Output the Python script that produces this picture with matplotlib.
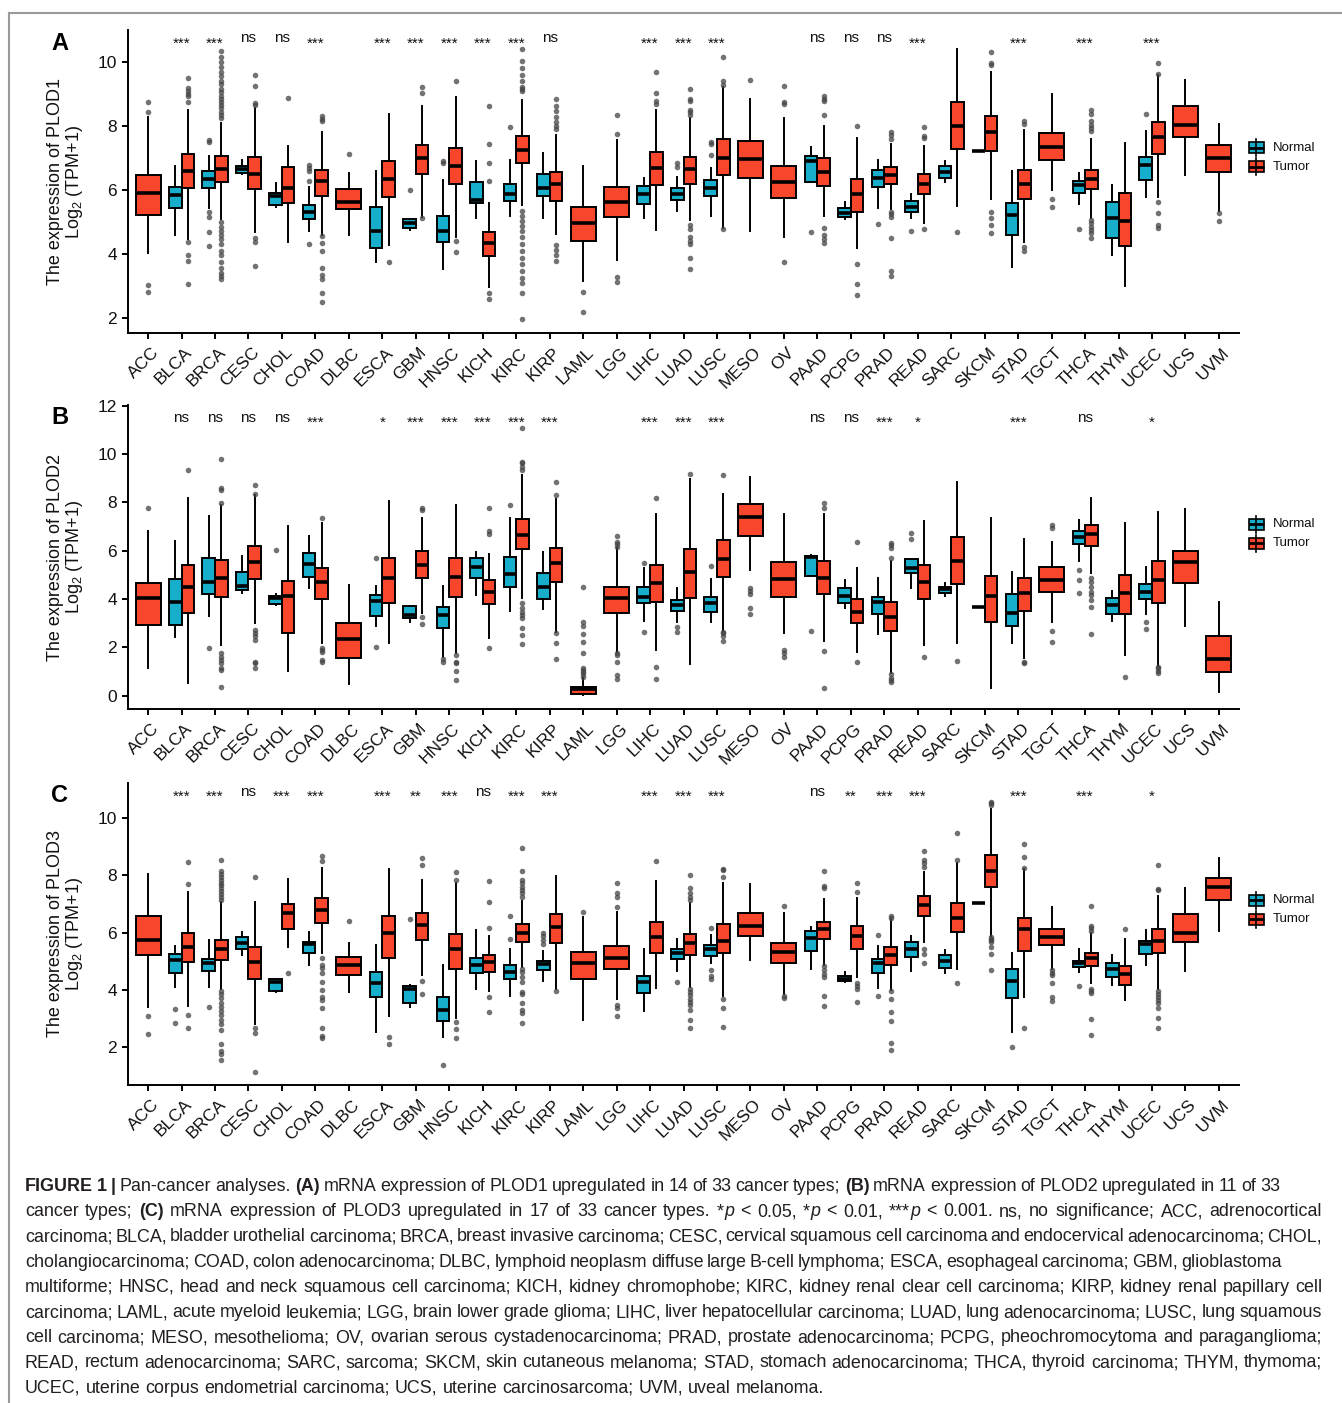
import matplotlib
matplotlib.use("Agg")
import matplotlib.pyplot as plt
from matplotlib.patches import Rectangle
from matplotlib.lines import Line2D
from matplotlib.transforms import ScaledTranslation

plt.rcParams['font.family'] = ['Liberation Sans', 'DejaVu Sans']
plt.rcParams['mathtext.fontset'] = 'custom'
plt.rcParams['mathtext.rm'] = 'Liberation Sans'
plt.rcParams['mathtext.it'] = 'Liberation Sans:italic'
plt.rcParams['mathtext.bf'] = 'Liberation Sans:bold'

# ---------------------------------------------------------------- data
cancers = ["ACC", "BLCA", "BRCA", "CESC", "CHOL", "COAD", "DLBC", "ESCA", "GBM", "HNSC",
           "KICH", "KIRC", "KIRP", "LAML", "LGG", "LIHC", "LUAD", "LUSC", "MESO", "OV",
           "PAAD", "PCPG", "PRAD", "READ", "SARC", "SKCM", "STAD", "TGCT", "THCA", "THYM",
           "UCEC", "UCS", "UVM"]
groups = ["Normal", "Tumor"]

# box statistics: (lower whisker, Q1, median, Q3, upper whisker); None = no samples
A_normal = [None, (4.59, 5.44, 5.84, 6.08, 6.73), (5.44, 6.07, 6.34, 6.59, 7.07), (6.50, 6.52, 6.66, 6.75, 6.94),
            (5.47, 5.53, 5.82, 5.91, 6.21), (4.71, 5.09, 5.32, 5.53, 6.08), None, (3.75, 4.17, 4.71, 5.47, 6.60),
            (4.75, 4.82, 4.95, 5.08, 5.10), (3.51, 4.36, 4.72, 5.18, 6.31), (5.11, 5.60, 5.68, 6.26, 6.89),
            (5.19, 5.66, 5.87, 6.19, 6.94), (5.11, 5.81, 6.05, 6.50, 7.15), None, None,
            (5.13, 5.56, 5.87, 6.12, 6.38), (5.35, 5.68, 5.86, 6.05, 6.41), (5.19, 5.81, 6.05, 6.31, 6.68),
            None, None, (6.26, 6.26, 6.89, 7.06, 7.34), (5.09, 5.14, 5.27, 5.42, 5.63),
            (5.44, 6.10, 6.38, 6.62, 6.94), (5.13, 5.32, 5.47, 5.65, 5.87), (6.24, 6.38, 6.57, 6.75, 6.91),
            (7.20, 7.20, 7.20, 7.20, 7.20), (3.57, 4.60, 5.21, 5.60, 6.60), None,
            (5.56, 5.89, 6.15, 6.29, 6.52), (3.96, 4.50, 5.11, 5.63, 6.15), (5.76, 6.31, 6.78, 7.04, 7.83),
            None, None]
A_tumor = [(4.03, 5.21, 5.89, 6.47, 8.27), (4.45, 6.05, 6.60, 7.12, 8.51), (5.10, 6.26, 6.66, 7.06, 8.10),
           (4.69, 6.03, 6.50, 7.04, 8.56), (4.38, 5.60, 6.05, 6.70, 7.36), (4.59, 5.82, 6.28, 6.62, 7.80),
           (4.60, 5.39, 5.63, 6.02, 6.54), (4.27, 5.79, 6.34, 6.89, 8.37), (5.16, 6.49, 6.99, 7.39, 8.63),
           (4.53, 6.18, 6.73, 7.30, 8.89), (2.97, 3.93, 4.35, 4.67, 5.60), (5.53, 6.83, 7.25, 7.67, 8.82),
           (4.61, 5.65, 6.19, 6.55, 7.72), (3.16, 4.40, 4.97, 5.45, 6.75), (3.80, 5.14, 5.63, 6.08, 7.57),
           (4.74, 6.15, 6.68, 7.17, 8.51), (5.06, 6.19, 6.65, 7.02, 8.24), (4.80, 6.47, 6.99, 7.59, 9.21),
           (4.72, 6.36, 6.96, 7.53, 8.84), (4.53, 5.74, 6.23, 6.75, 8.24), (5.18, 6.12, 6.57, 6.99, 8.00),
           (4.19, 5.32, 5.86, 6.34, 7.62), (5.39, 6.18, 6.47, 6.71, 7.43), (4.97, 5.86, 6.19, 6.50, 7.38),
           (5.50, 7.28, 8.00, 8.75, 10.39), (5.71, 7.20, 7.81, 8.30, 9.69), (4.36, 5.71, 6.18, 6.62, 7.86),
           (5.98, 6.94, 7.33, 7.77, 9.00), (5.13, 6.02, 6.33, 6.62, 7.59), (2.99, 4.25, 5.03, 5.89, 7.46),
           (5.76, 7.12, 7.64, 8.11, 9.60), (6.47, 7.65, 8.04, 8.61, 9.45), (5.35, 6.57, 7.01, 7.39, 8.07)]
A_normal_out = {"BRCA": [7.57, 7.49, 5.32, 5.16, 4.67, 4.25], "COAD": [6.78, 6.68, 6.60, 6.29, 4.32],
                "GBM": [5.98], "HNSC": [6.91, 6.83], "KIRC": [7.95], "LUAD": [6.85, 6.70],
                "LUSC": [7.51, 7.43, 7.10], "PAAD": [4.67], "PRAD": [4.93], "READ": [4.72],
                "THCA": [4.77], "UCEC": [8.37]}
A_tumor_out = {"ACC": [8.75, 8.43, 3.02, 2.81],
               "BLCA": [9.50, 9.18, 9.10, 9.00, 8.95, 8.75, 4.38, 3.96, 3.77, 3.05],
               "BRCA": [10.35, 10.15, 10.0, 9.85, 9.7, 9.55, 9.4, 9.3, 9.15, 9.05, 8.95, 8.85, 8.75, 8.65,
                        8.55, 8.45, 8.35, 8.25, 5.0, 4.85, 4.7, 4.6, 4.45, 4.3, 4.1, 3.95, 3.75, 3.55,
                        3.4, 3.3, 3.2],
               "CESC": [9.6, 9.24, 8.71, 8.66, 4.48, 4.36, 3.63], "CHOL": [8.87],
               "COAD": [8.30, 8.22, 8.14, 4.55, 4.33, 4.07, 3.54, 3.33, 3.22, 2.76, 2.48],
               "DLBC": [7.12], "ESCA": [3.75], "GBM": [9.23, 9.03, 5.12], "HNSC": [9.41, 4.40, 4.06],
               "KICH": [8.61, 7.43, 6.85, 6.29, 2.76, 2.57],
               "KIRC": [10.39, 10.02, 9.81, 9.6, 9.41, 9.23, 9.16, 9.08, 5.34, 5.19, 5.03, 4.88, 4.72,
                        4.51, 4.30, 4.09, 3.88, 3.67, 3.46, 3.25, 3.09, 2.78, 1.95],
               "KIRP": [8.85, 8.61, 8.47, 8.29, 8.13, 8.01, 7.91, 4.27, 4.11, 3.96, 3.77],
               "LAML": [2.79, 2.18], "LGG": [8.33, 7.75, 3.26, 3.12], "LIHC": [9.69, 9.03, 8.79, 8.68],
               "LUAD": [9.15, 8.85, 8.79, 8.51, 8.43, 8.35, 4.90, 4.77, 4.53, 4.40, 4.30, 3.88, 3.51],
               "LUSC": [10.15, 9.41, 9.28, 4.78], "MESO": [9.45], "OV": [9.24, 8.76, 8.69, 3.75],
               "PAAD": [8.93, 8.85, 8.79, 8.35, 4.79, 4.58, 4.46, 4.33], "PCPG": [8.00, 3.67, 3.05, 2.71],
               "PRAD": [7.81, 7.70, 7.60, 5.32, 5.25, 5.15, 4.50, 3.46, 3.30],
               "READ": [7.95, 7.67, 7.62, 4.78], "SARC": [4.67],
               "SKCM": [10.31, 9.97, 9.92, 5.30, 5.13, 4.90, 4.66], "STAD": [8.16, 8.06, 4.22, 4.08],
               "TGCT": [5.71, 5.45],
               "THCA": [8.51, 8.37, 8.14, 8.03, 7.93, 7.83, 5.06, 4.96, 4.85, 4.75, 4.64, 4.48],
               "UCEC": [9.97, 9.62, 5.63, 5.27, 4.90, 4.79], "UVM": [5.27, 5.01]}
A_sig = ["", "***", "***", "ns", "ns", "***", "", "***", "***", "***", "***", "***", "ns", "", "",
         "***", "***", "***", "", "", "ns", "ns", "ns", "***", "", "", "***", "", "***", "", "***", "", ""]

B_normal = [None, (2.44, 2.92, 3.86, 4.83, 6.41), (3.31, 4.19, 4.69, 5.68, 7.45), (4.26, 4.37, 4.55, 5.13, 5.78),
            (3.75, 3.79, 4.03, 4.12, 4.19), (4.44, 4.92, 5.43, 5.92, 6.62), None, (2.90, 3.30, 3.92, 4.17, 4.54),
            (3.06, 3.23, 3.34, 3.71, 3.71), (1.61, 2.81, 3.34, 3.66, 4.55), (4.17, 4.88, 5.34, 5.68, 5.96),
            (3.50, 4.48, 5.02, 5.72, 7.37), (3.57, 4.00, 4.51, 5.06, 5.93), None, None,
            (3.10, 3.82, 4.10, 4.48, 5.27), (3.06, 3.52, 3.75, 3.96, 4.47), (3.06, 3.48, 3.82, 4.07, 4.83),
            None, None, (4.95, 4.95, 5.72, 5.78, 5.82), (3.61, 3.82, 4.12, 4.44, 4.79),
            (2.54, 3.37, 3.86, 4.10, 4.88), (4.47, 5.09, 5.27, 5.64, 5.66), (4.14, 4.23, 4.40, 4.51, 4.65),
            (3.66, 3.66, 3.66, 3.66, 3.66), (2.17, 2.88, 3.43, 4.21, 5.13), None,
            (5.57, 6.28, 6.58, 6.83, 7.27), (3.09, 3.38, 3.75, 4.06, 4.33), (3.38, 4.00, 4.30, 4.62, 5.34),
            None, None]
B_tumor = [(1.13, 2.92, 4.06, 4.65, 6.81), (0.51, 3.41, 4.51, 5.41, 8.17), (2.10, 4.10, 4.88, 5.61, 7.90),
           (2.99, 4.81, 5.54, 6.21, 8.30), (1.03, 2.61, 4.12, 4.74, 7.02), (2.17, 4.00, 4.72, 5.27, 7.13),
           (0.48, 1.54, 2.34, 3.02, 4.58), (2.17, 3.85, 4.86, 5.71, 8.06), (3.41, 4.88, 5.41, 5.99, 7.34),
           (1.75, 4.07, 4.92, 5.68, 7.89), (2.37, 3.79, 4.28, 4.79, 5.86), (4.03, 6.06, 6.65, 7.30, 9.13),
           (2.62, 4.72, 5.50, 6.10, 8.14), (0.03, 0.06, 0.26, 0.34, 0.75), (1.82, 3.41, 4.03, 4.48, 6.10),
           (1.89, 3.89, 4.65, 5.41, 7.54), (1.30, 4.03, 5.13, 6.07, 8.95), (2.68, 4.92, 5.66, 6.44, 8.34),
           (5.20, 6.62, 7.41, 7.92, 9.03), (2.58, 4.10, 4.81, 5.54, 7.52), (2.28, 4.21, 4.88, 5.59, 7.52),
           (1.79, 3.02, 3.45, 4.00, 5.30), (0.92, 2.68, 3.27, 3.86, 5.57), (2.10, 4.00, 4.69, 5.41, 7.23),
           (2.17, 4.62, 5.59, 6.55, 8.86), (0.30, 3.03, 4.12, 4.97, 7.37), (1.54, 3.52, 4.23, 4.88, 6.47),
           (3.06, 4.28, 4.79, 5.31, 6.37), (5.06, 6.19, 6.68, 7.06, 8.17), (1.68, 3.37, 4.26, 4.99, 7.13),
           (1.24, 3.82, 4.79, 5.57, 7.61), (2.88, 4.67, 5.54, 6.00, 7.71), (0.17, 0.99, 1.52, 2.47, 3.89)]
B_normal_out = {"BRCA": [1.96], "CHOL": [6.03], "ESCA": [5.71, 2.03], "HNSC": [1.50, 1.41],
                "KIRC": [7.89], "LIHC": [5.50, 2.62], "LUAD": [2.83, 2.62], "LUSC": [5.38],
                "PAAD": [2.68], "READ": [6.72, 6.48], "THCA": [5.20, 4.79, 4.23], "UCEC": [3.06, 2.74]}
B_tumor_out = {"ACC": [7.75], "BLCA": [9.34],
               "BRCA": [9.78, 8.60, 8.50, 7.96, 1.75, 1.61, 1.48, 1.34, 1.16, 1.06, 0.37],
               "CESC": [8.72, 8.34, 2.72, 2.58, 2.48, 2.30, 1.41, 1.34, 1.16],
               "COAD": [7.34, 1.97, 1.90, 1.80, 1.48, 1.41], "GBM": [7.75, 7.68, 3.27, 2.95],
               "HNSC": [1.68, 1.41, 1.34, 1.02, 0.65], "KICH": [7.75, 6.81, 6.68, 1.99],
               "KIRC": [11.06, 9.68, 9.61, 9.48, 9.34, 3.82, 3.61, 3.48, 3.34, 3.20, 2.79, 2.51, 2.12],
               "KIRP": [8.86, 8.30, 2.58, 2.19, 1.52],
               "LAML": [4.51, 3.06, 2.88, 2.54, 2.21, 1.75, 1.13, 1.06, 0.97, 0.88, 0.79],
               "LGG": [6.61, 6.37, 6.26, 6.17, 1.78, 1.68, 1.41, 0.86, 0.69], "LIHC": [8.19, 1.20, 0.68],
               "LUAD": [9.17], "LUSC": [9.13, 2.65, 2.58, 2.48, 2.28], "MESO": [4.44, 4.33, 4.21, 3.61, 3.38],
               "OV": [1.89, 1.75, 1.61], "PAAD": [7.99, 7.75, 1.85, 0.30], "PCPG": [6.37, 1.41],
               "PRAD": [6.30, 6.23, 6.10, 5.71, 0.88, 0.74, 0.65, 0.58], "READ": [1.61], "SARC": [1.45],
               "STAD": [1.41, 1.34], "TGCT": [7.06, 6.95, 2.68, 2.21],
               "THCA": [4.86, 4.72, 4.51, 4.30, 4.17, 3.96, 3.68, 2.54], "THYM": [0.79],
               "UCEC": [1.20, 1.13, 1.02, 0.92]}
B_sig = ["", "ns", "ns", "ns", "ns", "***", "", "*", "***", "***", "***", "***", "***", "", "",
         "***", "***", "***", "", "", "ns", "ns", "***", "*", "", "", "***", "", "ns", "", "*", "", ""]

C_normal = [None, (4.10, 4.60, 5.04, 5.25, 5.53), (4.08, 4.66, 4.95, 5.09, 5.74), (5.21, 5.42, 5.64, 5.85, 6.03),
            (3.93, 3.96, 4.28, 4.37, 4.39), (4.88, 5.29, 5.60, 5.68, 6.03), None, (2.52, 3.75, 4.24, 4.63, 5.58),
            (3.40, 3.54, 4.04, 4.14, 4.16), (2.35, 2.91, 3.28, 3.75, 4.88), (4.02, 4.57, 4.86, 5.12, 6.09),
            (3.79, 4.36, 4.63, 4.88, 5.44), (4.31, 4.68, 4.89, 5.01, 5.35), None, None,
            (3.26, 3.89, 4.28, 4.49, 5.42), (4.66, 5.09, 5.29, 5.41, 5.77), (4.92, 5.19, 5.41, 5.56, 5.91),
            None, None, (4.71, 5.35, 5.82, 6.05, 6.20), (4.28, 4.30, 4.39, 4.49, 4.63),
            (4.07, 4.59, 4.95, 5.07, 5.53), (4.66, 5.15, 5.41, 5.68, 5.88), (4.59, 4.77, 5.00, 5.21, 5.39),
            (7.02, 7.02, 7.02, 7.02, 7.02), (2.50, 3.71, 4.31, 4.71, 5.29), None,
            (4.63, 4.80, 4.94, 5.01, 5.41), (4.18, 4.43, 4.71, 4.95, 5.23), (4.86, 5.25, 5.60, 5.70, 6.09),
            None, None]
C_tumor = [(3.38, 5.21, 5.74, 6.58, 8.04), (3.42, 4.98, 5.50, 5.99, 7.41), (4.04, 5.04, 5.44, 5.74, 7.08),
           (2.79, 4.39, 4.98, 5.50, 7.06), (5.50, 6.12, 6.69, 6.99, 7.86), (5.27, 6.34, 6.79, 7.20, 8.27),
           (3.93, 4.51, 4.86, 5.15, 5.64), (3.08, 5.12, 5.97, 6.59, 8.21), (4.51, 5.74, 6.26, 6.67, 7.84),
           (2.99, 4.74, 5.42, 5.95, 7.72), (3.95, 4.63, 4.98, 5.21, 5.88), (4.80, 5.68, 5.97, 6.29, 7.10),
           (4.01, 5.62, 6.20, 6.65, 7.99), (2.93, 4.39, 4.92, 5.33, 6.53), (3.69, 4.72, 5.12, 5.53, 6.73),
           (4.07, 5.29, 5.85, 6.36, 7.80), (4.10, 5.21, 5.62, 5.95, 7.02), (3.77, 5.29, 5.71, 6.30, 7.72),
           (5.04, 5.88, 6.24, 6.69, 7.69), (3.84, 4.94, 5.33, 5.64, 6.67), (4.88, 5.76, 6.12, 6.38, 7.16),
           (4.45, 5.44, 5.88, 6.23, 7.20), (3.98, 4.88, 5.21, 5.50, 6.44), (5.68, 6.58, 6.96, 7.28, 8.11),
           (4.74, 6.03, 6.50, 7.04, 8.42), (5.89, 7.61, 8.15, 8.71, 10.32), (3.73, 5.36, 6.11, 6.52, 8.22),
           (4.74, 5.56, 5.85, 6.11, 6.90), (4.22, 4.84, 5.12, 5.30, 5.97), (3.63, 4.16, 4.54, 4.84, 5.79),
           (4.01, 5.27, 5.71, 6.12, 7.28), (4.65, 5.68, 6.00, 6.65, 7.57), (6.05, 7.14, 7.58, 7.92, 8.60)]
C_normal_out = {"BLCA": [3.32, 2.84], "BRCA": [3.40], "GBM": [6.47], "HNSC": [1.36], "KIRC": [6.59, 5.76],
                "KIRP": [6.00, 5.89, 5.74, 5.60], "LUAD": [4.28], "LUSC": [6.17, 4.68, 4.47, 4.36],
                "PRAD": [5.93, 3.79], "STAD": [2.00], "THCA": [4.12]}
C_tumor_out = {"ACC": [3.08, 2.43], "BLCA": [8.48, 7.70, 3.11, 2.66],
               "BRCA": [8.54, 8.15, 8.05, 7.95, 7.85, 7.75, 7.65, 7.55, 7.45, 7.35, 7.25, 7.15, 3.95, 3.85,
                        3.70, 3.55, 3.40, 3.25, 3.10, 2.95, 2.80, 2.60, 2.10, 1.85, 1.75, 1.55],
               "CESC": [7.96, 2.64, 2.47, 1.12], "CHOL": [4.59],
               "COAD": [8.68, 8.52, 5.10, 4.86, 4.75, 4.57, 4.28, 3.99, 3.76, 3.64, 3.34, 2.64, 2.38, 2.31],
               "DLBC": [6.41], "ESCA": [2.35, 2.09], "GBM": [8.62, 8.36, 4.30, 3.84],
               "HNSC": [8.11, 7.84, 2.87, 2.61, 2.31], "KICH": [7.80, 7.06, 6.17, 3.75, 3.22],
               "KIRC": [8.95, 8.15, 7.84, 7.72, 7.60, 7.48, 7.37, 7.25, 4.74, 4.63, 4.45, 4.28, 3.93,
                        3.84, 3.52, 3.28, 3.19, 2.82],
               "KIRP": [3.96], "LAML": [6.71], "LGG": [7.72, 7.37, 7.26, 6.90, 3.48, 3.36, 3.08],
               "LIHC": [8.50],
               "LUAD": [8.01, 7.57, 7.37, 7.25, 7.13, 4.04, 3.92, 3.81, 3.69, 3.57, 3.46, 3.29, 2.94, 2.64],
               "LUSC": [8.21, 8.19, 7.93, 3.66, 3.37, 2.68], "OV": [6.93, 3.78, 3.72],
               "PAAD": [8.17, 7.62, 7.57, 4.82, 4.68, 4.54, 4.43, 3.77, 3.43],
               "PCPG": [7.72, 7.41, 4.22, 4.12, 4.04, 3.57],
               "PRAD": [6.59, 6.50, 3.94, 3.66, 3.20, 2.90, 2.14, 1.88],
               "READ": [8.86, 8.54, 8.45, 8.31, 5.42, 5.25, 4.94], "SARC": [9.50, 8.54, 4.24],
               "SKCM": [10.58, 10.53, 10.47, 5.85, 5.79, 5.74, 5.68, 5.48, 5.25, 4.68],
               "STAD": [9.10, 8.63, 8.25, 2.66], "TGCT": [4.68, 4.59, 4.51, 4.22, 3.76, 3.61],
               "THCA": [6.93, 6.23, 6.15, 6.07, 4.02, 3.96, 3.89, 2.96, 2.41], "THYM": [6.11],
               "UCEC": [8.36, 7.53, 7.48, 3.96, 3.85, 3.75, 3.64, 3.52, 3.34, 2.99, 2.64]}
C_sig = ["", "***", "***", "ns", "***", "***", "", "***", "**", "***", "ns", "***", "***", "", "",
         "***", "***", "***", "", "", "ns", "**", "***", "***", "", "", "***", "", "***", "", "*", "", ""]

genes = ["PLOD1", "PLOD2", "PLOD3"]
panel_letters = ["A", "B", "C"]

caption_lines = [
    "§FIGURE 1 |§ Pan-cancer analyses. §(A)§ mRNA expression of PLOD1 upregulated in 14 of 33 cancer types; §(B)§ mRNA expression of PLOD2 upregulated in 11 of 33",
    "cancer types; §(C)§ mRNA expression of PLOD3 upregulated in 17 of 33 cancer types. *~p~ < 0.05, *~p~ < 0.01, ***~p~ < 0.001. ns, no significance; ACC, adrenocortical",
    "carcinoma; BLCA, bladder urothelial carcinoma; BRCA, breast invasive carcinoma; CESC, cervical squamous cell carcinoma and endocervical adenocarcinoma; CHOL,",
    "cholangiocarcinoma; COAD, colon adenocarcinoma; DLBC, lymphoid neoplasm diffuse large B-cell lymphoma; ESCA, esophageal carcinoma; GBM, glioblastoma",
    "multiforme; HNSC, head and neck squamous cell carcinoma; KICH, kidney chromophobe; KIRC, kidney renal clear cell carcinoma; KIRP, kidney renal papillary cell",
    "carcinoma; LAML, acute myeloid leukemia; LGG, brain lower grade glioma; LIHC, liver hepatocellular carcinoma; LUAD, lung adenocarcinoma; LUSC, lung squamous",
    "cell carcinoma; MESO, mesothelioma; OV, ovarian serous cystadenocarcinoma; PRAD, prostate adenocarcinoma; PCPG, pheochromocytoma and paraganglioma;",
    "READ, rectum adenocarcinoma; SARC, sarcoma; SKCM, skin cutaneous melanoma; STAD, stomach adenocarcinoma; THCA, thyroid carcinoma; THYM, thymoma;",
    "UCEC, uterine corpus endometrial carcinoma; UCS, uterine carcinosarcoma; UVM, uveal melanoma.",
]

# ---------------------------------------------------------------- style / layout
W, H = 1342, 1403
COL = {"Normal": "#16AECB", "Tumor": "#F8462D"}
fig = plt.figure(figsize=(W / 100, H / 100), dpi=100)


def fx(x):
    return x / W


def fy(y):
    return 1 - y / H


panels = [
    dict(normal=A_normal, tumor=A_tumor, nout=A_normal_out, tout=A_tumor_out, sig=A_sig,
         px=(128, 30, 1239, 333), ylim=(1.52, 11.0), yticks=[2, 4, 6, 8, 10],
         ns_y=10.63, star_y=10.45, leg_y=(147.7, 166.7)),
    dict(normal=B_normal, tumor=B_tumor, nout=B_normal_out, tout=B_tumor_out, sig=B_sig,
         px=(128, 405, 1239, 709), ylim=(-0.55, 12.03), yticks=[0, 2, 4, 6, 8, 10, 12],
         ns_y=11.34, star_y=11.14, leg_y=(524.0, 543.3)),
    dict(normal=C_normal, tumor=C_tumor, nout=C_normal_out, tout=C_tumor_out, sig=C_sig,
         px=(128, 782.7, 1239, 1085), ylim=(0.66, 11.25), yticks=[2, 4, 6, 8, 10],
         ns_y=10.79, star_y=10.63, leg_y=(900.0, 919.0)),
]


def mkstat(s, fl):
    lo, q1, med, q3, hi = s
    return dict(whislo=lo, q1=q1, med=med, q3=q3, whishi=hi, fliers=fl)


for k, P in enumerate(panels):
    l, t, r, b = P["px"]
    ax = fig.add_axes([fx(l), fy(b), (r - l) / W, (b - t) / H])
    for g in groups:
        stats, pos, wid = [], [], []
        for i, c in enumerate(cancers):
            s = P["normal"][i] if g == "Normal" else P["tumor"][i]
            if s is None:
                continue
            fl = (P["nout"] if g == "Normal" else P["tout"]).get(c, [])
            paired = P["normal"][i] is not None
            if paired:
                pos.append(i + 1 + (-0.1875 if g == "Normal" else 0.1875))
                wid.append(0.375)
            else:
                pos.append(i + 1)
                wid.append(0.75)
            stats.append(mkstat(s, fl))
        ax.bxp(stats, positions=pos, widths=wid, patch_artist=True, showcaps=False,
               boxprops=dict(facecolor=COL[g], edgecolor="black", linewidth=1.4),
               medianprops=dict(color="black", linewidth=2.6, solid_capstyle="butt"),
               whiskerprops=dict(color="black", linewidth=1.4),
               flierprops=dict(marker="o", markersize=4.0, markerfacecolor="#444444",
                               markeredgecolor="none", alpha=0.75),
               manage_ticks=False)
    for i, s in enumerate(P["sig"]):
        if s:
            ax.text(i + 1, P["ns_y"] if s == "ns" else P["star_y"], s, ha="center",
                    va="baseline", fontsize=11, color="#111111")
    ax.set_xlim(0.4, 33.6)
    ax.set_ylim(*P["ylim"])
    ax.set_yticks(P["yticks"])
    ax.set_xticks(range(1, 34))
    ax.set_xticklabels(cancers, rotation=45, ha="right", rotation_mode="anchor")
    for sp in ("top", "right"):
        ax.spines[sp].set_visible(False)
    for sp in ("left", "bottom"):
        ax.spines[sp].set_linewidth(1.4)
    ax.tick_params(axis="both", length=4.5, width=1.4, labelsize=12.5, color="black",
                   labelcolor="#111111")
    ax.tick_params(axis="x", pad=4)
    off = ScaledTranslation(3 / 100, 0, fig.dpi_scale_trans)
    for lab in ax.get_xticklabels():
        lab.set_transform(lab.get_transform() + off)

    cy = (t + b) / 2
    fig.text(fx(66), fy(cy), "The expression of " + genes[k] + "\n" + r"Log$_2$ (TPM+1)",
             rotation=90, ha="center", va="center", multialignment="center",
             linespacing=0.95, fontsize=13, color="#111111")
    fig.text(fx(60), fy(t + 13), panel_letters[k], fontsize=17, fontweight="bold",
             ha="center", va="center")

    # legend (boxplot key glyphs)
    for g, yy in zip(groups, P["leg_y"]):
        kx = 1256
        fig.add_artist(Line2D([fx(kx), fx(kx)], [fy(yy - 8.5), fy(yy + 8.5)],
                              transform=fig.transFigure, color="black", lw=1.2))
        fig.add_artist(Rectangle((fx(kx - 7.5), fy(yy + 5.5)), 15 / W, 11 / H,
                                 transform=fig.transFigure, facecolor=COL[g],
                                 edgecolor="black", lw=1.2))
        fig.add_artist(Line2D([fx(kx - 7.5), fx(kx + 7.5)], [fy(yy), fy(yy)],
                              transform=fig.transFigure, color="black", lw=2.0,
                              solid_capstyle="butt"))
        fig.text(fx(1272.5), fy(yy), g, ha="left", va="center", fontsize=9.5,
                 color="#111111")

# frame lines
fig.add_artist(Line2D([fx(9), 1], [fy(13), fy(13)], transform=fig.transFigure,
                      color="#9a9a9a", lw=1.5))
fig.add_artist(Line2D([fx(9), fx(9)], [fy(13), 0], transform=fig.transFigure,
                      color="#9a9a9a", lw=1.5))

# ---------------------------------------------------------------- caption
renderer = fig.canvas.get_renderer()
CAP_FS = 12.9
CAP_COL = "#231f20"


def style_kw(bold, ital):
    return dict(fontsize=CAP_FS, fontweight="bold" if bold else "normal",
                fontstyle="italic" if ital else "normal", color=CAP_COL)


def measure(s, bold, ital):
    tt = fig.text(0, 0, s, **style_kw(bold, ital))
    w = tt.get_window_extent(renderer).width
    tt.remove()
    return w


def parse_words(line):
    words, cur, seg = [], [], ""
    bold = ital = False
    for ch in line:
        if ch in "§~ ":
            if seg:
                cur.append((seg, bold, ital))
                seg = ""
            if ch == "§":
                bold = not bold
            elif ch == "~":
                ital = not ital
            elif cur:
                words.append(cur)
                cur = []
        else:
            seg += ch
    if seg:
        cur.append((seg, bold, ital))
    if cur:
        words.append(cur)
    return words


space_w = measure("a a", False, False) - measure("aa", False, False)
cap_left = 25
cap_rights = [1280, 1322, 1322, 1282, 1322, 1322, 1322, 1322, None]
cap_base0, cap_step = 1191, 25.2
for n, (line, right) in enumerate(zip(caption_lines, cap_rights)):
    words = parse_words(line)
    widths = [[measure(s, bb, it) for s, bb, it in w] for w in words]
    total = sum(sum(ws) for ws in widths)
    gap = space_w if right is None else (right - cap_left - total) / (len(words) - 1)
    gap = max(gap, 0.6 * space_w)
    x = cap_left
    yb = cap_base0 + n * cap_step
    for w, ws in zip(words, widths):
        for (s, bb, it), sw in zip(w, ws):
            fig.text(fx(x), fy(yb), s, ha="left", va="baseline", **style_kw(bb, it))
            x += sw
        x += gap

fig.savefig("out.png", dpi=100)
